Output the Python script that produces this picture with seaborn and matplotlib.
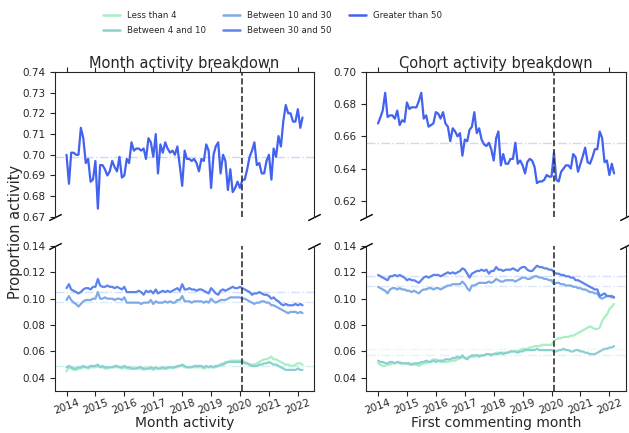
import matplotlib
matplotlib.use("Agg")
import matplotlib.pyplot as plt
import matplotlib.dates as mdates
from matplotlib.lines import Line2D
import numpy as np
import pandas as pd
import seaborn as sns

# ---- data (monthly, 2014-01 .. 2022-03) ----
months = pd.date_range("2014-01-01", periods=99, freq="MS")
groups = ["Less than 4", "Between 4 and 10", "Between 10 and 30",
          "Between 30 and 50", "Greater than 50"]
colors = ["#a8efc4", "#8ccfd2", "#7eaae6", "#5c84ec", "#4262f0"]
covid_date = pd.Timestamp("2020-02-01")

# month activity breakdown
month_lt4 = [
    0.045, 0.048, 0.047, 0.046, 0.046, 0.047, 0.047, 0.048, 0.048, 0.047, 0.048, 0.048,
    0.048, 0.049, 0.048, 0.048, 0.047, 0.047, 0.048, 0.048, 0.048, 0.048, 0.048, 0.047,
    0.048, 0.047, 0.047, 0.047, 0.047, 0.047, 0.047, 0.047, 0.046, 0.047, 0.047, 0.047,
    0.046, 0.047, 0.047, 0.047, 0.047, 0.047, 0.047, 0.048, 0.047, 0.048, 0.048, 0.049,
    0.049, 0.048, 0.048, 0.048, 0.048, 0.048, 0.048, 0.048, 0.048, 0.047, 0.048, 0.048,
    0.048, 0.048, 0.048, 0.049, 0.050, 0.051, 0.052, 0.052, 0.053, 0.053, 0.053, 0.053,
    0.053, 0.053, 0.052, 0.051, 0.050, 0.050, 0.050, 0.051, 0.052, 0.053, 0.054, 0.054,
    0.055, 0.056, 0.054, 0.054, 0.053, 0.052, 0.051, 0.050, 0.050, 0.049, 0.049, 0.050,
    0.051, 0.051, 0.050,
]
month_4_10 = [
    0.048, 0.049, 0.048, 0.047, 0.047, 0.048, 0.048, 0.049, 0.048, 0.048, 0.049, 0.049,
    0.049, 0.050, 0.048, 0.049, 0.048, 0.048, 0.048, 0.048, 0.049, 0.049, 0.048, 0.048,
    0.049, 0.048, 0.048, 0.047, 0.047, 0.047, 0.048, 0.048, 0.047, 0.047, 0.047, 0.048,
    0.047, 0.048, 0.047, 0.047, 0.048, 0.047, 0.048, 0.048, 0.048, 0.048, 0.049, 0.049,
    0.050, 0.049, 0.048, 0.048, 0.048, 0.049, 0.049, 0.049, 0.049, 0.048, 0.049, 0.048,
    0.049, 0.048, 0.049, 0.049, 0.050, 0.050, 0.051, 0.052, 0.052, 0.052, 0.052, 0.052,
    0.052, 0.052, 0.051, 0.051, 0.050, 0.049, 0.049, 0.049, 0.050, 0.050, 0.051, 0.051,
    0.052, 0.051, 0.050, 0.050, 0.049, 0.048, 0.047, 0.046, 0.046, 0.046, 0.046, 0.046,
    0.047, 0.046, 0.046,
]
month_10_30 = [
    0.099, 0.102, 0.099, 0.097, 0.096, 0.094, 0.096, 0.098, 0.099, 0.099, 0.099, 0.100,
    0.100, 0.105, 0.100, 0.100, 0.101, 0.100, 0.100, 0.100, 0.099, 0.100, 0.100, 0.099,
    0.101, 0.097, 0.097, 0.097, 0.097, 0.097, 0.097, 0.096, 0.097, 0.097, 0.097, 0.099,
    0.096, 0.098, 0.097, 0.097, 0.097, 0.098, 0.097, 0.098, 0.097, 0.097, 0.099, 0.099,
    0.102, 0.098, 0.098, 0.098, 0.097, 0.098, 0.098, 0.098, 0.098, 0.097, 0.098, 0.097,
    0.100, 0.098, 0.097, 0.098, 0.099, 0.099, 0.099, 0.100, 0.101, 0.101, 0.101, 0.101,
    0.101, 0.100, 0.100, 0.099, 0.098, 0.097, 0.096, 0.097, 0.097, 0.098, 0.098, 0.097,
    0.097, 0.095, 0.095, 0.094, 0.093, 0.092, 0.091, 0.090, 0.089, 0.090, 0.090, 0.090,
    0.089, 0.090, 0.089,
]
month_30_50 = [
    0.108, 0.111, 0.107, 0.106, 0.105, 0.104, 0.105, 0.107, 0.108, 0.108, 0.107, 0.109,
    0.109, 0.115, 0.110, 0.109, 0.109, 0.110, 0.109, 0.109, 0.108, 0.109, 0.108, 0.107,
    0.109, 0.105, 0.105, 0.105, 0.105, 0.105, 0.106, 0.105, 0.103, 0.106, 0.105, 0.106,
    0.104, 0.107, 0.104, 0.105, 0.106, 0.105, 0.106, 0.105, 0.106, 0.107, 0.108, 0.106,
    0.111, 0.107, 0.107, 0.108, 0.107, 0.107, 0.106, 0.107, 0.107, 0.106, 0.105, 0.104,
    0.108, 0.106, 0.104, 0.103, 0.106, 0.107, 0.106, 0.107, 0.108, 0.109, 0.108, 0.108,
    0.109, 0.108, 0.107, 0.106, 0.105, 0.103, 0.104, 0.104, 0.105, 0.104, 0.103, 0.103,
    0.102, 0.100, 0.101, 0.099, 0.098, 0.096, 0.095, 0.096, 0.095, 0.095, 0.095, 0.096,
    0.095, 0.096, 0.095,
]
month_gt50 = [
    0.700, 0.686, 0.701, 0.701, 0.700, 0.700, 0.713, 0.708, 0.696, 0.698, 0.687, 0.688,
    0.697, 0.674, 0.695, 0.695, 0.693, 0.690, 0.692, 0.697, 0.694, 0.692, 0.699, 0.689,
    0.690, 0.698, 0.696, 0.706, 0.702, 0.703, 0.703, 0.702, 0.703, 0.698, 0.708, 0.706,
    0.699, 0.710, 0.691, 0.705, 0.701, 0.706, 0.703, 0.701, 0.702, 0.700, 0.704, 0.695,
    0.685, 0.702, 0.698, 0.698, 0.697, 0.698, 0.696, 0.692, 0.698, 0.697, 0.705, 0.702,
    0.684, 0.700, 0.704, 0.706, 0.691, 0.700, 0.697, 0.683, 0.693, 0.682, 0.684, 0.687,
    0.684, 0.688, 0.688, 0.693, 0.699, 0.702, 0.706, 0.695, 0.696, 0.691, 0.691, 0.697,
    0.700, 0.688, 0.703, 0.699, 0.709, 0.704, 0.716, 0.724, 0.720, 0.720, 0.716, 0.716,
    0.722, 0.713, 0.718,
]

# cohort activity breakdown
cohort_lt4 = [
    0.051, 0.050, 0.049, 0.049, 0.050, 0.050, 0.051, 0.051, 0.052, 0.052, 0.051, 0.051,
    0.051, 0.050, 0.050, 0.050, 0.050, 0.049, 0.050, 0.051, 0.051, 0.052, 0.053, 0.054,
    0.054, 0.053, 0.052, 0.052, 0.052, 0.052, 0.053, 0.053, 0.053, 0.054, 0.055, 0.056,
    0.055, 0.055, 0.056, 0.056, 0.056, 0.057, 0.057, 0.057, 0.057, 0.058, 0.058, 0.058,
    0.058, 0.059, 0.059, 0.059, 0.059, 0.059, 0.059, 0.060, 0.060, 0.060, 0.060, 0.061,
    0.062, 0.062, 0.062, 0.063, 0.063, 0.064, 0.064, 0.064, 0.065, 0.065, 0.065, 0.065,
    0.065, 0.068, 0.069, 0.070, 0.070, 0.071, 0.071, 0.071, 0.072, 0.072, 0.073, 0.074,
    0.075, 0.076, 0.077, 0.078, 0.079, 0.078, 0.077, 0.077, 0.078, 0.083, 0.086, 0.088,
    0.092, 0.094, 0.096,
]
cohort_4_10 = [
    0.053, 0.052, 0.052, 0.051, 0.051, 0.052, 0.052, 0.051, 0.052, 0.051, 0.051, 0.051,
    0.051, 0.051, 0.050, 0.051, 0.051, 0.051, 0.052, 0.052, 0.053, 0.052, 0.052, 0.053,
    0.052, 0.053, 0.053, 0.053, 0.054, 0.054, 0.054, 0.055, 0.055, 0.056, 0.055, 0.057,
    0.055, 0.054, 0.056, 0.057, 0.057, 0.057, 0.056, 0.057, 0.057, 0.058, 0.058, 0.057,
    0.058, 0.058, 0.058, 0.059, 0.058, 0.059, 0.059, 0.060, 0.060, 0.060, 0.059, 0.060,
    0.060, 0.061, 0.061, 0.061, 0.061, 0.061, 0.062, 0.061, 0.061, 0.061, 0.061, 0.061,
    0.061, 0.060, 0.060, 0.061, 0.061, 0.062, 0.061, 0.061, 0.060, 0.060, 0.061, 0.061,
    0.060, 0.060, 0.059, 0.059, 0.058, 0.058, 0.058, 0.059, 0.060, 0.061, 0.062, 0.062,
    0.063, 0.063, 0.064,
]
cohort_10_30 = [
    0.109, 0.108, 0.107, 0.106, 0.104, 0.107, 0.108, 0.108, 0.107, 0.108, 0.107, 0.107,
    0.106, 0.106, 0.105, 0.106, 0.105, 0.104, 0.106, 0.107, 0.107, 0.108, 0.108, 0.107,
    0.108, 0.108, 0.107, 0.108, 0.109, 0.110, 0.110, 0.111, 0.111, 0.111, 0.111, 0.113,
    0.111, 0.108, 0.106, 0.110, 0.110, 0.111, 0.112, 0.112, 0.112, 0.112, 0.113, 0.112,
    0.113, 0.115, 0.114, 0.113, 0.113, 0.114, 0.114, 0.114, 0.114, 0.113, 0.114, 0.115,
    0.116, 0.116, 0.115, 0.115, 0.116, 0.117, 0.117, 0.116, 0.116, 0.115, 0.115, 0.114,
    0.114, 0.111, 0.112, 0.112, 0.111, 0.111, 0.110, 0.110, 0.110, 0.109, 0.109, 0.108,
    0.108, 0.107, 0.107, 0.106, 0.105, 0.105, 0.104, 0.104, 0.101, 0.100, 0.101, 0.102,
    0.102, 0.101, 0.101,
]
cohort_30_50 = [
    0.118, 0.117, 0.116, 0.115, 0.114, 0.117, 0.117, 0.118, 0.117, 0.118, 0.117, 0.116,
    0.114, 0.115, 0.114, 0.114, 0.113, 0.112, 0.114, 0.116, 0.117, 0.116, 0.117, 0.118,
    0.118, 0.118, 0.117, 0.118, 0.119, 0.120, 0.119, 0.120, 0.119, 0.120, 0.121, 0.123,
    0.122, 0.119, 0.116, 0.119, 0.120, 0.121, 0.121, 0.122, 0.121, 0.122, 0.119, 0.121,
    0.121, 0.124, 0.122, 0.122, 0.121, 0.122, 0.122, 0.122, 0.123, 0.122, 0.121, 0.123,
    0.124, 0.124, 0.122, 0.121, 0.121, 0.123, 0.125, 0.124, 0.124, 0.123, 0.123, 0.122,
    0.122, 0.120, 0.119, 0.119, 0.118, 0.118, 0.117, 0.117, 0.116, 0.116, 0.114, 0.114,
    0.113, 0.112, 0.111, 0.110, 0.109, 0.108, 0.107, 0.107, 0.102, 0.103, 0.104, 0.102,
    0.102, 0.102, 0.101,
]
cohort_gt50 = [
    0.668, 0.672, 0.676, 0.687, 0.672, 0.673, 0.673, 0.671, 0.676, 0.667, 0.670, 0.669,
    0.681, 0.677, 0.678, 0.678, 0.678, 0.682, 0.687, 0.671, 0.673, 0.666, 0.667, 0.668,
    0.675, 0.674, 0.671, 0.675, 0.668, 0.666, 0.657, 0.665, 0.663, 0.660, 0.662, 0.648,
    0.658, 0.657, 0.664, 0.666, 0.675, 0.662, 0.665, 0.658, 0.655, 0.654, 0.656, 0.652,
    0.645, 0.659, 0.663, 0.642, 0.649, 0.643, 0.643, 0.646, 0.646, 0.656, 0.643, 0.645,
    0.642, 0.637, 0.644, 0.646, 0.645, 0.641, 0.631, 0.632, 0.632, 0.633, 0.636, 0.635,
    0.635, 0.650, 0.633, 0.632, 0.638, 0.640, 0.642, 0.642, 0.640, 0.649, 0.647, 0.638,
    0.643, 0.648, 0.653, 0.644, 0.643, 0.647, 0.652, 0.652, 0.663, 0.659, 0.644, 0.645,
    0.636, 0.643, 0.637,
]


def to_long(series):
    frames = [pd.DataFrame({"month": months, "group": g, "value": v})
              for g, v in zip(groups, series)]
    return pd.concat(frames, ignore_index=True)


df_month = to_long([month_lt4, month_4_10, month_10_30, month_30_50, month_gt50])
df_cohort = to_long([cohort_lt4, cohort_4_10, cohort_10_30, cohort_30_50, cohort_gt50])

# ---- plot ----
sns.set_style("ticks")
palette = dict(zip(groups, colors))

fig, axes = plt.subplots(2, 2, figsize=(6.29, 4.33), dpi=100, sharex="col")
fig.subplots_adjust(left=0.087, right=0.995, top=0.834, bottom=0.097,
                    wspace=0.2, hspace=0.2)

panels = [
    (df_month, "Month activity breakdown", "Month activity", (0.67, 0.74),
     np.arange(0.67, 0.745, 0.01)),
    (df_cohort, "Cohort activity breakdown", "First commenting month", (0.61, 0.70),
     np.arange(0.62, 0.705, 0.02)),
]

d = .5
brk = dict(marker=[(-1, -d), (1, d)], markersize=9, linestyle="none",
           color="k", mec="k", mew=1, clip_on=False)

for c, (df, title, xlabel, top_lim, top_ticks) in enumerate(panels):
    top, bot = axes[0, c], axes[1, c]
    means = df.groupby("group")["value"].mean()
    for ax in (top, bot):
        for g in groups:
            ax.axhline(means[g], color=palette[g], ls="-.", lw=1, alpha=0.25, zorder=1)
        sns.lineplot(data=df, x="month", y="value", hue="group", hue_order=groups,
                     palette=palette, lw=1.6, ax=ax, legend=False, zorder=2)
        ax.axvline(covid_date, color="#333333", ls="--", lw=1.2, zorder=3)
        ax.set_xlabel("")
        ax.set_ylabel("")
        ax.tick_params(labelsize=7.5)
        ax.yaxis.set_major_formatter(plt.FormatStrFormatter("%.2f"))

    top.set_ylim(*top_lim)
    top.set_yticks(top_ticks)
    bot.set_ylim(0.03, 0.14)
    bot.set_yticks(np.arange(0.04, 0.145, 0.02))

    top.spines["bottom"].set_visible(False)
    bot.spines["top"].set_visible(False)
    top.xaxis.tick_top()
    top.tick_params(labeltop=False)
    bot.xaxis.tick_bottom()

    top.plot([0, 1], [0, 0], transform=top.transAxes, **brk)
    bot.plot([0, 1], [1, 1], transform=bot.transAxes, **brk)

    bot.xaxis.set_major_locator(mdates.YearLocator())
    bot.xaxis.set_major_formatter(mdates.DateFormatter("%Y"))
    bot.tick_params(axis="x", pad=1.5)
    for lab in bot.get_xticklabels():
        lab.set_rotation(20)

    top.set_title(title, fontsize=10.5, pad=3)
    bot.set_xlabel(xlabel, fontsize=10, labelpad=0)

fig.text(0.025, 0.465, "Proportion activity", rotation=90, va="center",
         ha="center", fontsize=10.5)

handles = [Line2D([0], [0], color=palette[g], lw=1.8) for g in groups]
fig.legend(handles, groups, loc="upper center", bbox_to_anchor=(0.433, 0.993),
           ncol=3, frameon=False, fontsize=6.2, labelspacing=0.75)

plt.savefig("out.png", dpi=100)
plt.close()
